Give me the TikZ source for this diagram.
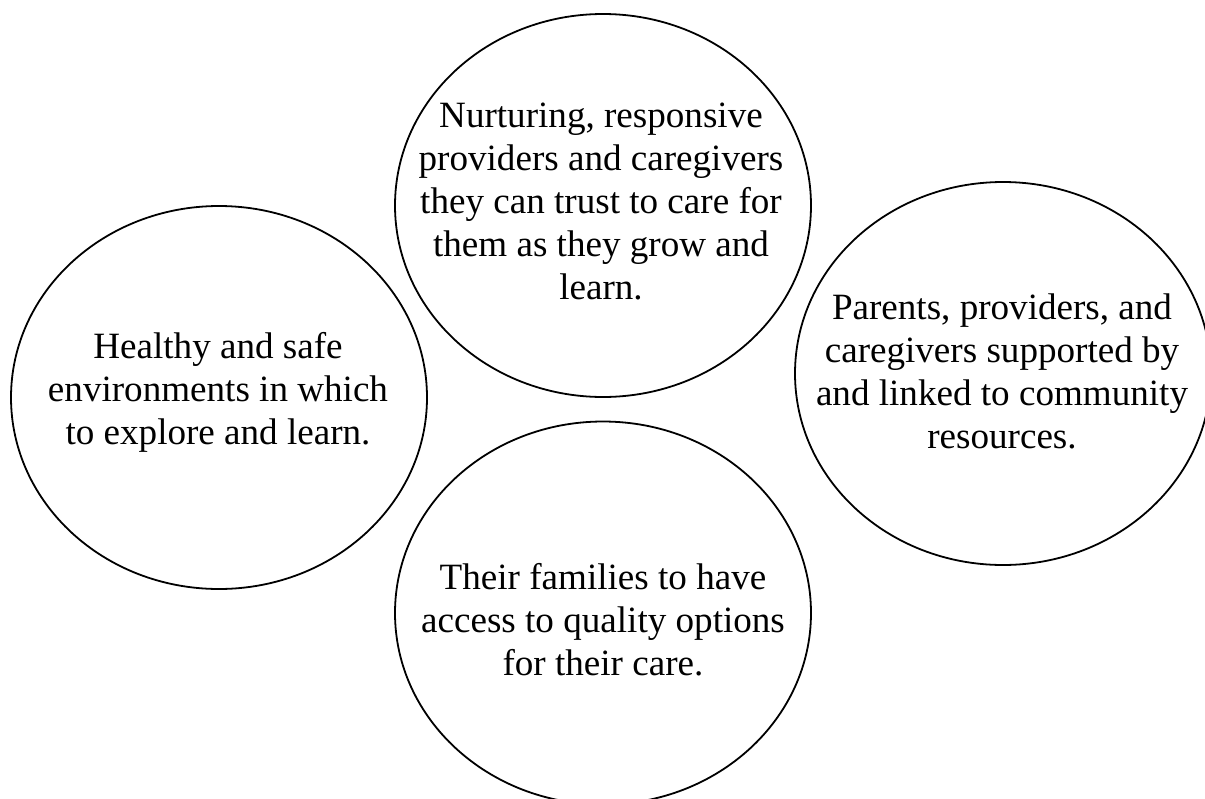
\documentclass[tikz,border=0pt]{standalone}
\usepackage{fontspec}
\setmainfont{Liberation Serif}

\tikzset{
    ring/.style={draw=black, line width=0.9pt},
    bubbletext/.style={align=center, inner sep=0pt, font=\fontsize{18.55}{21.5}\selectfont}
}

\begin{document}
\begin{tikzpicture}[x=0.5pt, y=-0.5pt]
            % Page frame
            \clip (0,0) rectangle (1205,798);

            % Circles
            \draw[ring] (603,205.5) ellipse (208 and 191.5);  % top
            \draw[ring] (219,397.5) ellipse (208 and 191.5);  % left
            \draw[ring] (1003,373.5) ellipse (208 and 191.5); % right
            \draw[ring] (603,613) ellipse (208 and 191.5);    % bottom

            % Texts
            \node[bubbletext] (nurture) at (601,201.5) {Nurturing, responsive\\providers and caregivers\\they can trust to care for\\them as they grow and\\learn.};
            \node[bubbletext] (healthy) at (218,392) {Healthy and safe\\environments in which\\to explore and learn.};
            \node[bubbletext] (linked) at (1002,371) {Parents, providers, and\\caregivers supported by\\and linked to community\\resources.};
            \node[bubbletext] (access) at (603,619.5) {Their families to have\\access to quality options\\for their care.};

\end{tikzpicture}
\end{document}
